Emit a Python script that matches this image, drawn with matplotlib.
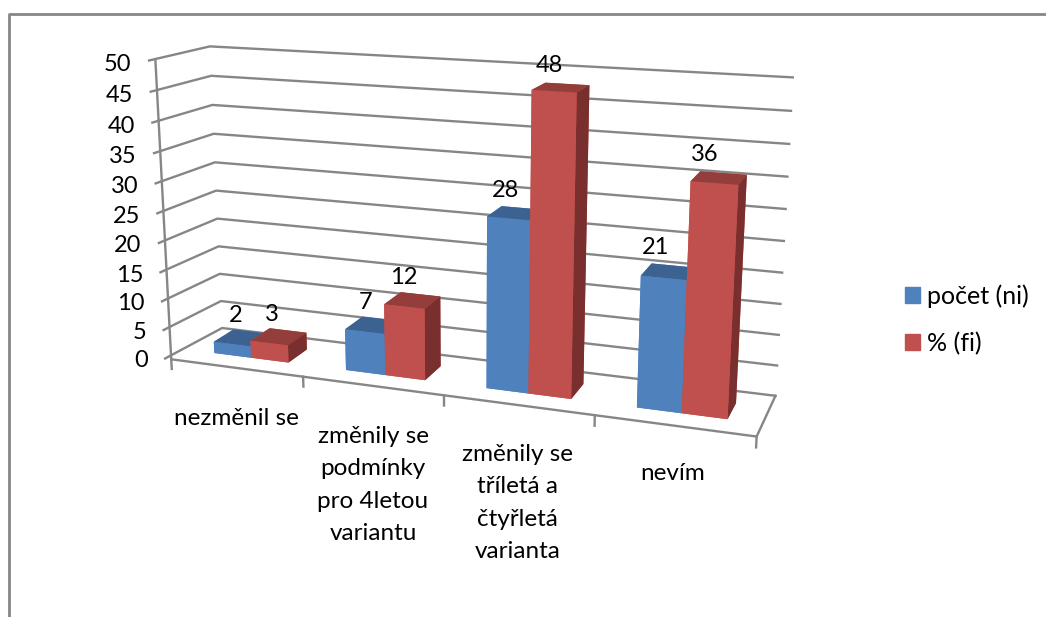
import numpy as np
import matplotlib
matplotlib.use('Agg')
import matplotlib.pyplot as plt
from matplotlib.patches import Patch
from mpl_toolkits.mplot3d import proj3d

plt.rcParams['font.family'] = ['Lato', 'DejaVu Sans']

categories = ['nezměnil se', 'změnily se\npodmínky\npro 4letou\nvariantu',
              'změnily se\ntříletá a\nčtyřletá\nvarianta', 'nevím']
series_names = ['počet (ni)', '% (fi)']
pocet = [2, 7, 28, 21]
procenta = [3, 12, 48, 36]
z_ticks = [0, 5, 10, 15, 20, 25, 30, 35, 40, 45, 50]

W, H = 1046, 617
GRID = '#868686'
BLUE = ['#4f81bd', '#3b6291', '#3b6291']
RED = ['#c0504d', '#933e3b', '#782f2d']

fig = plt.figure(figsize=(W / 100, H / 100), dpi=100)

# camera fitted to the wall corners of the original chart
side = 1125.0
left = 462.96 - 577.7
bottom = H - (226.99 + 577.7)
ax = fig.add_axes([left / W, bottom / H, side / W, side / H], projection='3d')
ax.set_proj_type('persp', focal_length=0.25)
ax.view_init(elev=14.754, azim=-69.873, roll=0.07)
box = np.array([4.0734, 0.7289, 2.0943]) * 0.25
ax.set_box_aspect(box, zoom=np.linalg.norm(box) / (1.8294640721620434 * 25 / 24))
ax.set_xlim(0, 1, view_margin=0)
ax.set_ylim(0, 1, view_margin=0)
ax.set_zlim(0, 50, view_margin=0)
ax.set_axis_off()
ax.computed_zorder = False


def label3d(x, y, z, s, **kw):
    # plain 2D text placed at the projected point
    px, py, _ = proj3d.proj_transform(x, y, z, ax.get_proj())
    ax.text2D(px, py, s, color='black', zorder=4, **kw)


# walls, floor and ticks
for z in z_ticks:
    ax.plot([-0.012, 0, 1], [0, 1, 1], [z, z, z], color=GRID, lw=1.7, zorder=1)
    label3d(-0.046, 0, z - 0.8, str(z), ha='right', va='center', fontsize=17)
ax.plot([0, 0], [0, 0], [0, 50], color=GRID, lw=1.7, zorder=1)
ax.plot([0, 1, 1], [0, 0, 1], [0, 0, 0], color=GRID, lw=1.7, zorder=1)
for i in range(len(categories) + 1):
    x = i / len(categories)
    ax.plot([x, x], [0, 0], [0, -1.7], color=GRID, lw=1.7, zorder=1)

# bars, one collection so that the faces get sorted together
n = len(categories)
bar_w = (1 / n) / 3.5
depth = 0.4
y_front = 0.3
xs, ys, zs, dx, dy, dz, face = [], [], [], [], [], [], []
for i in range(n):
    start = i / n + 0.75 * bar_w
    for j, (vals, cols) in enumerate([(pocet, BLUE), (procenta, RED)]):
        xs.append(start + j * bar_w)
        ys.append(y_front)
        zs.append(0)
        dx.append(bar_w)
        dy.append(depth)
        dz.append(vals[i])
        # bottom, top, front, back, left, right
        face += [cols[0], cols[1], cols[0], cols[0], cols[0], cols[2]]
        label3d(xs[-1] + bar_w / 2 - 0.03, y_front + depth, vals[i] + 2.6, str(vals[i]),
                ha='center', va='center', fontsize=17)
ax.bar3d(xs, ys, zs, dx, dy, dz, color=face, shade=False, linewidth=0, zorder=2)

# category labels
label_x = [236.5, 373, 517.5, 673]
label_y = [408, 426, 444, 463]
for name, lx, ly in zip(categories, label_x, label_y):
    fig.text(lx / W, 1 - ly / H, name, ha='center', va='top', fontsize=17.5,
             linespacing=1.67, color='black')

handles = [Patch(color=BLUE[0]), Patch(color=RED[0])]
fig.legend(handles, series_names, loc='center left', bbox_to_anchor=(905 / W, 1 - 319.5 / H),
           frameon=False, fontsize=18, labelspacing=0.96, handlelength=0.6,
           handleheight=0.6, handletextpad=0.28, borderpad=0, borderaxespad=0)

# outer frame
fig.add_artist(plt.Line2D([9 / W, 9 / W, 1], [0, 1 - 14 / H, 1 - 14 / H],
                          color=GRID, lw=2, transform=fig.transFigure))

fig.savefig('out.png', dpi=100)
